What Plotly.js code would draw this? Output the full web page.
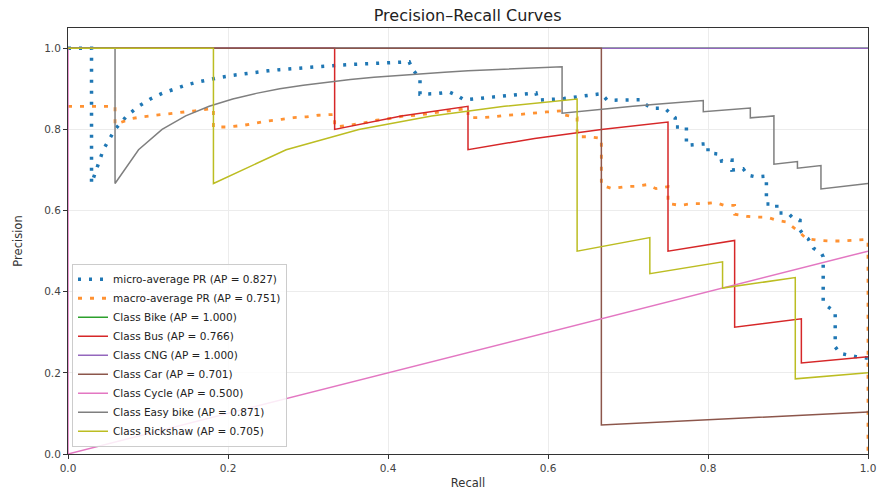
<!DOCTYPE html>
<html>
<head>
<meta charset="utf-8">
<script src="https://cdn.plot.ly/plotly-3.0.1.min.js"></script>
<style>html,body{margin:0;padding:0;background:#fff;}#chart{width:879px;height:490px;}</style>
</head>
<body>
<div id="chart"></div>
<script>
// ---- data ----
const seriesNames = [
  "micro-average PR (AP = 0.827)",
  "macro-average PR (AP = 0.751)",
  "Class Bike (AP = 1.000)",
  "Class Bus (AP = 0.766)",
  "Class CNG (AP = 1.000)",
  "Class Car (AP = 0.701)",
  "Class Cycle (AP = 0.500)",
  "Class Easy bike (AP = 0.871)",
  "Class Rickshaw (AP = 0.705)"
];

const microRecall = [0,0.0294,0.0294,0.0441,0.0588,0.0735,0.0882,0.1029,0.1176,0.1324,
  0.1471,0.1618,0.1765,0.1912,0.2059,0.2206,0.2353,0.25,0.2647,0.2794,
  0.2941,0.3088,0.3235,0.3382,0.3529,0.3676,0.3824,0.3971,0.4118,0.4265,
  0.43,0.44,0.44,0.46,0.477,0.486,0.495,0.51,0.55,0.585,
  0.587,0.62,0.65,0.667,0.674,0.715,0.72,0.73,0.746,0.759,
  0.759,0.773,0.773,0.80,0.80,0.815,0.817,0.83,0.83,0.844,
  0.85,0.86,0.873,0.873,0.886,0.886,0.90,0.907,0.915,0.915,
  0.92,0.925,0.932,0.942,0.944,0.944,0.95,0.959,0.959,0.965,
  0.985,1.0];
const microPrecision = [1,1,0.6667,0.75,0.8,0.8333,0.8571,0.875,0.8889,0.9,
  0.9091,0.9167,0.9231,0.9286,0.9333,0.9375,0.9412,0.9444,0.9474,0.95,
  0.9524,0.9545,0.9565,0.9583,0.96,0.9615,0.963,0.9643,0.9655,0.9667,
  0.95,0.925,0.887,0.888,0.892,0.884,0.873,0.876,0.884,0.89,
  0.872,0.876,0.884,0.888,0.872,0.873,0.864,0.852,0.852,0.829,
  0.806,0.806,0.761,0.765,0.742,0.739,0.722,0.724,0.70,0.703,
  0.687,0.683,0.685,0.616,0.616,0.594,0.594,0.58,0.576,0.552,
  0.539,0.531,0.507,0.494,0.486,0.375,0.363,0.35,0.264,0.248,
  0.24,0.236];

const macroRecall = [0,0.0588,0.0588,0.078,0.092,0.111,0.128,0.142,0.159,0.1818,
  0.1818,0.2,0.219,0.236,0.25,0.267,0.282,0.298,0.313,0.3333,
  0.3333,0.35,0.37,0.386,0.403,0.419,0.436,0.45,0.465,0.482,
  0.5,0.5,0.517,0.532,0.548,0.565,0.582,0.598,0.6176,0.6176,
  0.6364,0.6364,0.652,0.6667,0.6667,0.68,0.697,0.71,0.724,0.735,
  0.75,0.75,0.765,0.78,0.795,0.809,0.82,0.8333,0.8333,0.848,
  0.861,0.873,0.886,0.898,0.911,0.923,0.936,0.952,0.967,0.981,
  1.0,1.0];
const macroPrecision = [0.857,0.857,0.812,0.826,0.831,0.835,0.839,0.841,0.846,0.852,
  0.806,0.806,0.81,0.816,0.821,0.825,0.829,0.831,0.835,0.837,
  0.806,0.81,0.816,0.823,0.827,0.833,0.835,0.839,0.843,0.847,
  0.852,0.829,0.829,0.831,0.835,0.837,0.841,0.843,0.846,0.837,
  0.829,0.782,0.782,0.778,0.663,0.654,0.659,0.66,0.664,0.654,
  0.659,0.617,0.613,0.617,0.617,0.62,0.613,0.613,0.591,0.586,
  0.584,0.584,0.576,0.572,0.552,0.531,0.527,0.525,0.525,0.527,
  0.529,0.0];

const bikeRecall = [0,1.0];
const bikePrecision = [1,1];

const busRecall = [0,0.0833,0.1667,0.25,0.3333,0.3333,0.4167,0.5,0.5,0.5833,0.6667,0.75,0.75,0.8333,0.8333,0.9167,0.9167,1.0];
const busPrecision = [1,1,1,1,1,0.8,0.8333,0.8571,0.75,0.7778,0.8,0.8182,0.5,0.5263,0.3125,0.3333,0.2245,0.24];

const cngRecall = [0,1.0];
const cngPrecision = [1,1];

const carRecall = [0,0.3333,0.6667,0.6667,1.0];
const carPrecision = [1,1,1,0.0714,0.1034];

const cycleRecall = [0,0,1.0];
const cyclePrecision = [1,0,0.5];

const easyRecall = [0,0.0294,0.0588,0.0588,0.0882,0.1176,0.1471,0.1765,0.2059,0.2353,
  0.2647,0.2941,0.3235,0.3529,0.3824,0.4118,0.4412,0.4706,0.5,0.5294,
  0.5588,0.5882,0.6176,0.6176,0.6471,0.6765,0.7059,0.7353,0.7647,0.7941,
  0.7941,0.8235,0.8529,0.8529,0.8824,0.8824,0.9118,0.9118,0.9412,0.9412,
  0.9706,1.0];
const easyPrecision = [1,1,1,0.6667,0.75,0.8,0.8333,0.8571,0.875,0.8889,
  0.9,0.9091,0.9167,0.9231,0.9286,0.9333,0.9375,0.9412,0.9444,0.9474,
  0.95,0.9524,0.9545,0.84,0.8462,0.8519,0.8571,0.8621,0.8667,0.871,
  0.8438,0.8485,0.8529,0.8286,0.8333,0.7143,0.7209,0.7045,0.7111,0.6531,
  0.66,0.6667];

const rickRecall = [0,0.0909,0.1818,0.1818,0.2727,0.3636,0.4545,0.5455,0.6364,0.6364,0.7273,0.7273,0.8182,0.8182,0.9091,0.9091,1.0];
const rickPrecision = [1,1,1,0.6667,0.75,0.8,0.8333,0.8571,0.875,0.5,0.5333,0.4444,0.4737,0.4091,0.4348,0.1852,0.2];

const tickValues = [0,0.2,0.4,0.6,0.8,1.0];
const tickLabels = ["0.0","0.2","0.4","0.6","0.8","1.0"];

// ---- styling ----
const colors = ["#1f77b4","#ff7f0e","#2ca02c","#d62728","#9467bd","#8c564b","#e377c2","#7f7f7f","#bcbd22"];
const xs = [microRecall,macroRecall,bikeRecall,busRecall,cngRecall,carRecall,cycleRecall,easyRecall,rickRecall];
const ys = [microPrecision,macroPrecision,bikePrecision,busPrecision,cngPrecision,carPrecision,cyclePrecision,easyPrecision,rickPrecision];

const traces = xs.map((x,i)=>({
  type:"scatter", mode:"lines", x:x, y:ys[i], name:seriesNames[i],
  line: i===0 ? {color:colors[i], width:3.5, dash:"3px,8px"}
       : i===1 ? {color:"rgba(255,127,14,0.85)", width:2.8, dash:"4px,8px"}
       : {color:colors[i], width:1.5},
  hoverinfo:"skip"
}));

const font = "DejaVu Sans, Liberation Sans, sans-serif";
const axisCommon = {
  tickvals:tickValues, ticktext:tickLabels,
  showline:true, mirror:true, linecolor:"#333", linewidth:1,
  ticks:"outside", ticklen:4, tickcolor:"#333", tickwidth:1,
  showgrid:true, gridcolor:"#ececec", gridwidth:1,
  zeroline:false,
  tickfont:{family:font, size:10.5, color:"#444"}
};

const layout = {
  width:879, height:490,
  margin:{l:68, r:11, t:28, b:36},
  paper_bgcolor:"#fff", plot_bgcolor:"#fff",
  title:{text:"Precision–Recall Curves", x:0.532, xanchor:"center", y:0.968, yanchor:"middle",
         font:{family:font, size:16, color:"#222"}},
  xaxis:Object.assign({}, axisCommon, {range:[0,1],
         title:{text:"Recall", font:{family:font, size:11.5, color:"#333"}, standoff:6}}),
  yaxis:Object.assign({}, axisCommon, {range:[0,1.05],
         title:{text:"Precision", font:{family:font, size:11.5, color:"#333"}, standoff:19}}),
  showlegend:true,
  legend:{x:0.005, y:0.017, xanchor:"left", yanchor:"bottom",
          bgcolor:"rgba(255,255,255,0.85)", bordercolor:"#cccccc", borderwidth:1,
          font:{family:font, size:10.5, color:"#222"}, traceorder:"normal"}
};

Plotly.newPlot("chart", traces, layout, {displayModeBar:false, staticPlot:true});
</script>
</body>
</html>
